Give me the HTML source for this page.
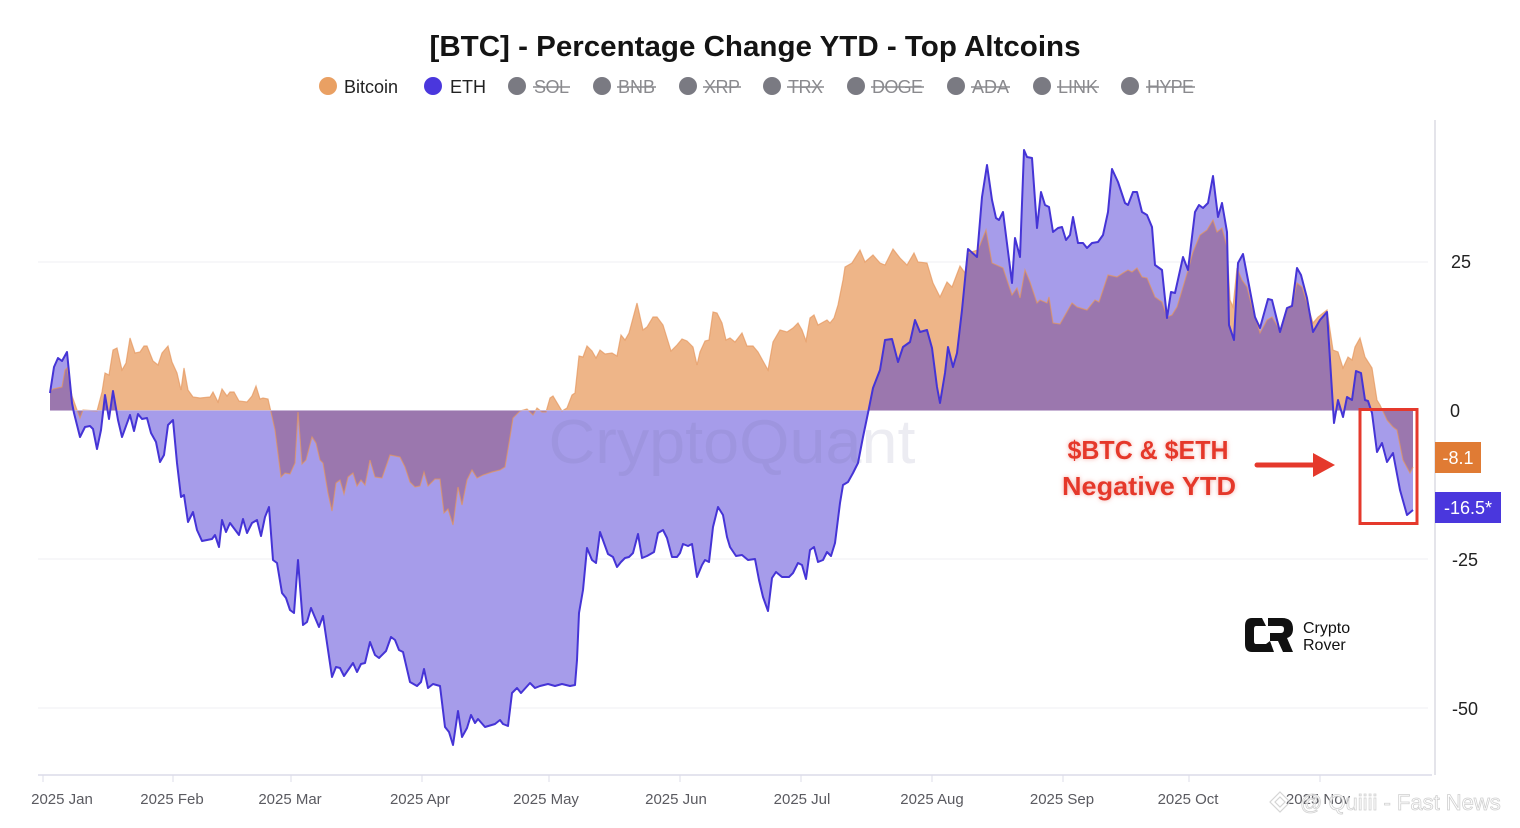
<!DOCTYPE html>
<html><head><meta charset="utf-8"><style>
html,body{margin:0;padding:0;background:#fff;}
svg{display:block;font-family:"Liberation Sans",sans-serif;}
</style></head><body>
<svg width="1520" height="828" viewBox="0 0 1520 828" xmlns="http://www.w3.org/2000/svg">
<defs>
<path id="btcArea" d="M50,410 L50,392 53,389 62,387 65,370 67,368 72,396 77,410 80,418 83,410 97,411 102,392 105,373 109,375 113,350 117,348 122,370 126,363 130,338 135,353 140,352 144,346 147,346 153,361 158,365 162,353 168,346 172,362 177,373 181,390 184,368 188,390 193,397 200,398 210,397 213,392 218,402 222,389 227,396 230,392 234,392 239,401 247,402 252,396 256,386 260,399 263,398 268,399 271,412 275,430 281,477 285,473 290,474 295,463 298,412 302,464 306,460 312,437 316,443 320,460 323,463 328,493 332,511 336,483 340,480 344,494 348,477 353,473 357,486 361,480 365,485 370,460 375,477 382,478 390,455 400,457 405,467 410,482 415,487 420,486 424,472 428,486 435,479 440,479 444,513 448,509 453,525 458,487 462,505 467,480 472,470 477,478 483,475 492,472 500,470 505,467 510,437 513,418 520,411 527,409 533,415 537,408 542,412 546,412 550,398 553,396 562,411 567,408 572,395 575,393 579,356 583,357 587,346 592,351 596,358 600,350 605,354 612,353 617,356 621,335 625,340 629,333 637,303 643,330 647,327 653,317 657,317 663,325 667,338 671,351 677,345 682,339 687,341 693,347 697,365 700,352 705,341 709,340 713,312 717,313 722,323 726,340 730,338 735,342 742,333 747,346 753,346 758,352 768,370 773,342 780,330 787,332 793,328 798,323 802,330 806,341 810,318 814,315 818,325 827,320 830,323 834,318 838,305 843,280 845,267 852,263 860,250 865,262 873,255 880,263 885,265 893,249 900,258 907,265 914,253 918,262 927,263 933,283 940,297 947,282 952,287 960,266 965,273 968,253 978,250 986,230 992,263 1003,268 1012,295 1017,288 1020,298 1025,270 1030,282 1037,303 1040,300 1047,303 1049,297 1053,323 1060,324 1072,303 1077,307 1087,310 1095,300 1099,302 1108,275 1117,277 1123,273 1128,270 1132,272 1137,268 1142,277 1147,278 1155,297 1162,302 1167,317 1172,315 1177,307 1183,287 1188,270 1193,252 1200,235 1207,230 1213,220 1217,232 1222,228 1227,247 1230,300 1233,307 1237,268 1242,280 1247,287 1252,307 1257,323 1260,333 1267,320 1272,317 1280,330 1287,308 1292,305 1297,283 1302,287 1307,303 1313,323 1318,317 1327,310 1333,350 1338,352 1343,368 1348,357 1352,360 1355,347 1360,338 1365,357 1372,368 1377,400 1380,405 1387,420 1393,427 1397,430 1403,460 1410,473 1413,467 L1413,410 Z"/>
<path id="btcLine" d="M50,392 53,389 62,387 65,370 67,368 72,396 77,410 80,418 83,410 97,411 102,392 105,373 109,375 113,350 117,348 122,370 126,363 130,338 135,353 140,352 144,346 147,346 153,361 158,365 162,353 168,346 172,362 177,373 181,390 184,368 188,390 193,397 200,398 210,397 213,392 218,402 222,389 227,396 230,392 234,392 239,401 247,402 252,396 256,386 260,399 263,398 268,399 271,412 275,430 281,477 285,473 290,474 295,463 298,412 302,464 306,460 312,437 316,443 320,460 323,463 328,493 332,511 336,483 340,480 344,494 348,477 353,473 357,486 361,480 365,485 370,460 375,477 382,478 390,455 400,457 405,467 410,482 415,487 420,486 424,472 428,486 435,479 440,479 444,513 448,509 453,525 458,487 462,505 467,480 472,470 477,478 483,475 492,472 500,470 505,467 510,437 513,418 520,411 527,409 533,415 537,408 542,412 546,412 550,398 553,396 562,411 567,408 572,395 575,393 579,356 583,357 587,346 592,351 596,358 600,350 605,354 612,353 617,356 621,335 625,340 629,333 637,303 643,330 647,327 653,317 657,317 663,325 667,338 671,351 677,345 682,339 687,341 693,347 697,365 700,352 705,341 709,340 713,312 717,313 722,323 726,340 730,338 735,342 742,333 747,346 753,346 758,352 768,370 773,342 780,330 787,332 793,328 798,323 802,330 806,341 810,318 814,315 818,325 827,320 830,323 834,318 838,305 843,280 845,267 852,263 860,250 865,262 873,255 880,263 885,265 893,249 900,258 907,265 914,253 918,262 927,263 933,283 940,297 947,282 952,287 960,266 965,273 968,253 978,250 986,230 992,263 1003,268 1012,295 1017,288 1020,298 1025,270 1030,282 1037,303 1040,300 1047,303 1049,297 1053,323 1060,324 1072,303 1077,307 1087,310 1095,300 1099,302 1108,275 1117,277 1123,273 1128,270 1132,272 1137,268 1142,277 1147,278 1155,297 1162,302 1167,317 1172,315 1177,307 1183,287 1188,270 1193,252 1200,235 1207,230 1213,220 1217,232 1222,228 1227,247 1230,300 1233,307 1237,268 1242,280 1247,287 1252,307 1257,323 1260,333 1267,320 1272,317 1280,330 1287,308 1292,305 1297,283 1302,287 1307,303 1313,323 1318,317 1327,310 1333,350 1338,352 1343,368 1348,357 1352,360 1355,347 1360,338 1365,357 1372,368 1377,400 1380,405 1387,420 1393,427 1397,430 1403,460 1410,473 1413,467"/>
<path id="ethArea" d="M50,410 L50,393 54,367 58,358 62,361 67,352 72,403 74,413 80,437 85,427 90,426 93,429 97,449 101,430 105,395 109,419 113,391 118,420 122,437 130,415 134,431 138,414 142,419 147,418 151,433 156,442 160,462 164,455 168,425 173,420 177,463 181,497 184,495 188,522 193,512 197,530 202,541 207,540 212,539 215,535 219,547 222,520 226,532 230,523 239,535 243,519 247,533 252,523 257,520 261,536 265,517 269,507 273,560 277,563 282,593 286,598 290,610 294,613 298,560 303,625 307,622 311,608 319,627 323,616 332,677 336,667 340,668 344,676 353,663 357,672 361,664 365,663 370,642 375,655 379,658 386,651 391,637 395,640 399,650 403,652 410,682 417,686 421,682 424,669 428,688 433,684 440,686 445,727 449,732 453,745 458,711 462,737 467,728 471,715 475,723 478,719 485,727 495,724 500,720 503,724 508,726 512,693 517,688 521,693 530,683 535,688 540,686 548,684 555,686 562,684 570,686 575,685 577,660 579,613 583,590 587,548 592,560 596,563 600,532 604,543 608,554 613,557 617,567 621,562 625,558 629,557 633,553 638,534 642,558 647,556 654,552 658,533 663,530 667,538 672,557 677,557 680,553 683,544 688,546 692,544 697,577 702,565 705,560 709,562 713,527 718,507 723,515 727,537 730,547 736,556 742,555 748,560 755,559 759,580 763,597 768,611 772,578 776,572 782,577 789,577 793,573 798,563 802,565 806,579 810,550 814,547 818,562 823,560 827,552 831,556 835,543 840,503 843,485 848,482 853,473 858,463 863,437 868,413 873,388 880,370 885,340 892,339 898,362 903,347 910,342 915,320 920,332 927,330 932,348 937,387 940,403 945,373 948,347 953,367 957,353 962,310 968,249 977,257 982,197 987,165 992,200 996,218 999,220 1003,212 1012,283 1015,238 1020,257 1024,150 1027,157 1032,158 1037,228 1041,192 1045,205 1049,207 1053,232 1058,228 1062,227 1066,240 1070,235 1073,217 1078,243 1083,243 1087,248 1092,243 1098,242 1103,235 1108,212 1112,169 1118,182 1125,203 1128,205 1133,192 1137,192 1142,212 1147,215 1152,227 1155,265 1162,270 1167,318 1171,292 1175,293 1183,257 1188,270 1195,212 1199,205 1203,208 1208,203 1213,176 1218,217 1222,203 1227,232 1229,325 1234,340 1238,263 1243,254 1248,280 1255,317 1260,328 1268,299 1272,300 1280,332 1287,308 1292,306 1297,268 1301,275 1307,298 1313,332 1320,320 1327,312 1334,423 1338,400 1343,417 1347,397 1352,400 1356,371 1361,373 1365,400 1368,401 1372,413 1377,452 1382,443 1387,462 1393,453 1400,490 1407,515 1413,510 L1413,410 Z"/>
<path id="ethLine" d="M50,393 54,367 58,358 62,361 67,352 72,403 74,413 80,437 85,427 90,426 93,429 97,449 101,430 105,395 109,419 113,391 118,420 122,437 130,415 134,431 138,414 142,419 147,418 151,433 156,442 160,462 164,455 168,425 173,420 177,463 181,497 184,495 188,522 193,512 197,530 202,541 207,540 212,539 215,535 219,547 222,520 226,532 230,523 239,535 243,519 247,533 252,523 257,520 261,536 265,517 269,507 273,560 277,563 282,593 286,598 290,610 294,613 298,560 303,625 307,622 311,608 319,627 323,616 332,677 336,667 340,668 344,676 353,663 357,672 361,664 365,663 370,642 375,655 379,658 386,651 391,637 395,640 399,650 403,652 410,682 417,686 421,682 424,669 428,688 433,684 440,686 445,727 449,732 453,745 458,711 462,737 467,728 471,715 475,723 478,719 485,727 495,724 500,720 503,724 508,726 512,693 517,688 521,693 530,683 535,688 540,686 548,684 555,686 562,684 570,686 575,685 577,660 579,613 583,590 587,548 592,560 596,563 600,532 604,543 608,554 613,557 617,567 621,562 625,558 629,557 633,553 638,534 642,558 647,556 654,552 658,533 663,530 667,538 672,557 677,557 680,553 683,544 688,546 692,544 697,577 702,565 705,560 709,562 713,527 718,507 723,515 727,537 730,547 736,556 742,555 748,560 755,559 759,580 763,597 768,611 772,578 776,572 782,577 789,577 793,573 798,563 802,565 806,579 810,550 814,547 818,562 823,560 827,552 831,556 835,543 840,503 843,485 848,482 853,473 858,463 863,437 868,413 873,388 880,370 885,340 892,339 898,362 903,347 910,342 915,320 920,332 927,330 932,348 937,387 940,403 945,373 948,347 953,367 957,353 962,310 968,249 977,257 982,197 987,165 992,200 996,218 999,220 1003,212 1012,283 1015,238 1020,257 1024,150 1027,157 1032,158 1037,228 1041,192 1045,205 1049,207 1053,232 1058,228 1062,227 1066,240 1070,235 1073,217 1078,243 1083,243 1087,248 1092,243 1098,242 1103,235 1108,212 1112,169 1118,182 1125,203 1128,205 1133,192 1137,192 1142,212 1147,215 1152,227 1155,265 1162,270 1167,318 1171,292 1175,293 1183,257 1188,270 1195,212 1199,205 1203,208 1208,203 1213,176 1218,217 1222,203 1227,232 1229,325 1234,340 1238,263 1243,254 1248,280 1255,317 1260,328 1268,299 1272,300 1280,332 1287,308 1292,306 1297,268 1301,275 1307,298 1313,332 1320,320 1327,312 1334,423 1338,400 1343,417 1347,397 1352,400 1356,371 1361,373 1365,400 1368,401 1372,413 1377,452 1382,443 1387,462 1393,453 1400,490 1407,515 1413,510"/>
<clipPath id="ethClip"><use href="#ethArea"/></clipPath>
<filter id="glow" x="-20%" y="-40%" width="140%" height="180%">
<feGaussianBlur in="SourceAlpha" stdDeviation="2.5" result="b"/>
<feFlood flood-color="#f08a80" flood-opacity="0.7"/>
<feComposite in2="b" operator="in" result="g"/>
<feMerge><feMergeNode in="g"/><feMergeNode in="SourceGraphic"/></feMerge>
</filter>
</defs>

<!-- title -->
<text x="755" y="56" text-anchor="middle" font-size="29" font-weight="bold" fill="#141414" textLength="651" lengthAdjust="spacingAndGlyphs">[BTC] - Percentage Change YTD - Top Altcoins</text>

<!-- legend -->
<g font-size="18">
<circle cx="328" cy="86" r="9" fill="#E9A063"/><text x="344" y="93" fill="#222">Bitcoin</text>
<circle cx="433" cy="86" r="9" fill="#4A37DD"/><text x="450" y="93" fill="#222">ETH</text>
<g fill="#7a7a82">
<circle cx="517" cy="86" r="9"/><circle cx="602" cy="86" r="9"/><circle cx="688" cy="86" r="9"/><circle cx="772" cy="86" r="9"/><circle cx="856" cy="86" r="9"/><circle cx="956" cy="86" r="9"/><circle cx="1042" cy="86" r="9"/><circle cx="1130" cy="86" r="9"/>
</g>
<g fill="#8a8a8e">
<text x="534" y="93" textLength="35">SOL</text>
<text x="618" y="93" textLength="37">BNB</text>
<text x="704" y="93" textLength="36">XRP</text>
<text x="788" y="93" textLength="35">TRX</text>
<text x="872" y="93" textLength="51">DOGE</text>
<text x="972" y="93" textLength="37">ADA</text>
<text x="1058" y="93" textLength="40">LINK</text>
<text x="1147" y="93" textLength="47">HYPE</text>
</g>
<g stroke="#8a8a8e" stroke-width="1.5">
<line x1="533" y1="87" x2="570" y2="87"/><line x1="617" y1="87" x2="656" y2="87"/><line x1="703" y1="87" x2="741" y2="87"/><line x1="787" y1="87" x2="824" y2="87"/><line x1="871" y1="87" x2="924" y2="87"/><line x1="971" y1="87" x2="1010" y2="87"/><line x1="1057" y1="87" x2="1099" y2="87"/><line x1="1146" y1="87" x2="1195" y2="87"/>
</g>
</g>

<!-- grid -->
<g stroke="#efeff3" stroke-width="1">
<line x1="38" y1="262" x2="1428" y2="262"/>
<line x1="38" y1="559" x2="1428" y2="559"/>
<line x1="38" y1="708" x2="1428" y2="708"/>
</g>

<!-- areas -->
<use href="#ethArea" fill="#A69CEA"/>
<use href="#btcArea" fill="#EEB588"/>
<use href="#btcArea" fill="#9B77AE" clip-path="url(#ethClip)"/>
<use href="#btcLine" fill="none" stroke="#E4965C" stroke-width="1.2" stroke-opacity="0.7"/>
<line x1="50" y1="410.5" x2="1413" y2="410.5" stroke="#c9b6d6" stroke-width="1"/>

<!-- watermark -->
<text x="732" y="463" text-anchor="middle" font-size="62" fill="#6f6a9a" fill-opacity="0.13" textLength="367" lengthAdjust="spacingAndGlyphs">CryptoQuant</text>

<use href="#ethLine" fill="none" stroke="#4534D6" stroke-width="2" stroke-linejoin="round"/>

<!-- axes -->
<line x1="1435" y1="120" x2="1435" y2="775" stroke="#dcdce4" stroke-width="1.5"/>
<line x1="38" y1="775" x2="1432" y2="775" stroke="#dcdce8" stroke-width="1.5"/>
<g stroke="#dcdce8" stroke-width="1">
<line x1="43" y1="775" x2="43" y2="782"/><line x1="173" y1="775" x2="173" y2="782"/><line x1="291" y1="775" x2="291" y2="782"/><line x1="422" y1="775" x2="422" y2="782"/><line x1="549" y1="775" x2="549" y2="782"/><line x1="680" y1="775" x2="680" y2="782"/><line x1="801" y1="775" x2="801" y2="782"/><line x1="932" y1="775" x2="932" y2="782"/><line x1="1063" y1="775" x2="1063" y2="782"/><line x1="1189" y1="775" x2="1189" y2="782"/><line x1="1320" y1="775" x2="1320" y2="782"/>
</g>
<g font-size="15" fill="#5a5a60" text-anchor="middle">
<text x="62" y="804">2025 Jan</text>
<text x="172" y="804">2025 Feb</text>
<text x="290" y="804">2025 Mar</text>
<text x="420" y="804">2025 Apr</text>
<text x="546" y="804">2025 May</text>
<text x="676" y="804">2025 Jun</text>
<text x="802" y="804">2025 Jul</text>
<text x="932" y="804">2025 Aug</text>
<text x="1062" y="804">2025 Sep</text>
<text x="1188" y="804">2025 Oct</text>
<text x="1318" y="804">2025 Nov</text>
</g>
<g font-size="18" fill="#222" text-anchor="middle">
<text x="1461" y="268">25</text>
<text x="1455" y="417">0</text>
<text x="1465" y="566">-25</text>
<text x="1465" y="715">-50</text>
</g>

<!-- value labels -->
<rect x="1435" y="442" width="46" height="31" fill="#E07B34"/>
<text x="1458" y="464" text-anchor="middle" font-size="18" fill="#fff">-8.1</text>
<rect x="1435" y="492" width="66" height="31" fill="#4A37DD"/>
<text x="1468" y="514" text-anchor="middle" font-size="18" fill="#fff">-16.5*</text>

<!-- annotation -->
<g filter="url(#glow)" font-weight="bold" font-size="26" fill="#E5392C" text-anchor="middle">
<text x="1148" y="459" textLength="161" lengthAdjust="spacingAndGlyphs">$BTC &amp; $ETH</text>
<text x="1149" y="495" textLength="174" lengthAdjust="spacingAndGlyphs">Negative YTD</text>
</g>
<line x1="1257" y1="465" x2="1318" y2="465" stroke="#E5392C" stroke-width="5" stroke-linecap="round"/>
<polygon points="1313,453 1335,465 1313,477" fill="#E5392C"/>
<rect x="1360" y="409.5" width="57" height="114" fill="none" stroke="#E5392C" stroke-width="3"/>

<!-- Crypto Rover logo -->
<g fill="#111">
<path d="M1262,618 L1252,618 Q1245,618 1245,626 L1245,644 Q1245,652 1252,652 L1266,652 L1266,644 L1256,644 Q1254,644 1254,641 L1254,629 Q1254,626 1256,626 L1266,626 Z"/>
<path d="M1268,618 L1282,618 Q1293,618 1293,629 Q1293,636 1287,638 L1293,652 L1283,652 L1278,641 L1270,641 L1270,633 L1281,633 Q1284,633 1284,629 Q1284,626 1281,626 L1268,626 Z"/>
<path d="M1266,644 L1270,641 L1274,652 L1266,652 Z"/>
</g>
<text x="1303" y="633" font-size="16" fill="#111">Crypto</text>
<text x="1303" y="650" font-size="16" fill="#111">Rover</text>

<!-- bottom watermark -->
<text x="1300" y="810" font-size="22" fill="#fff" stroke="#d0d0d0" stroke-width="0.8" fill-opacity="0.6">@ Quiiii - Fast News</text>
<g fill="none" stroke="#d5d5d5" stroke-width="1.2">
<polygon points="1280,792 1290,802 1280,812 1270,802"/>
<polygon points="1280,797 1285,802 1280,807 1275,802"/>
</g>
</svg>
</body></html>
